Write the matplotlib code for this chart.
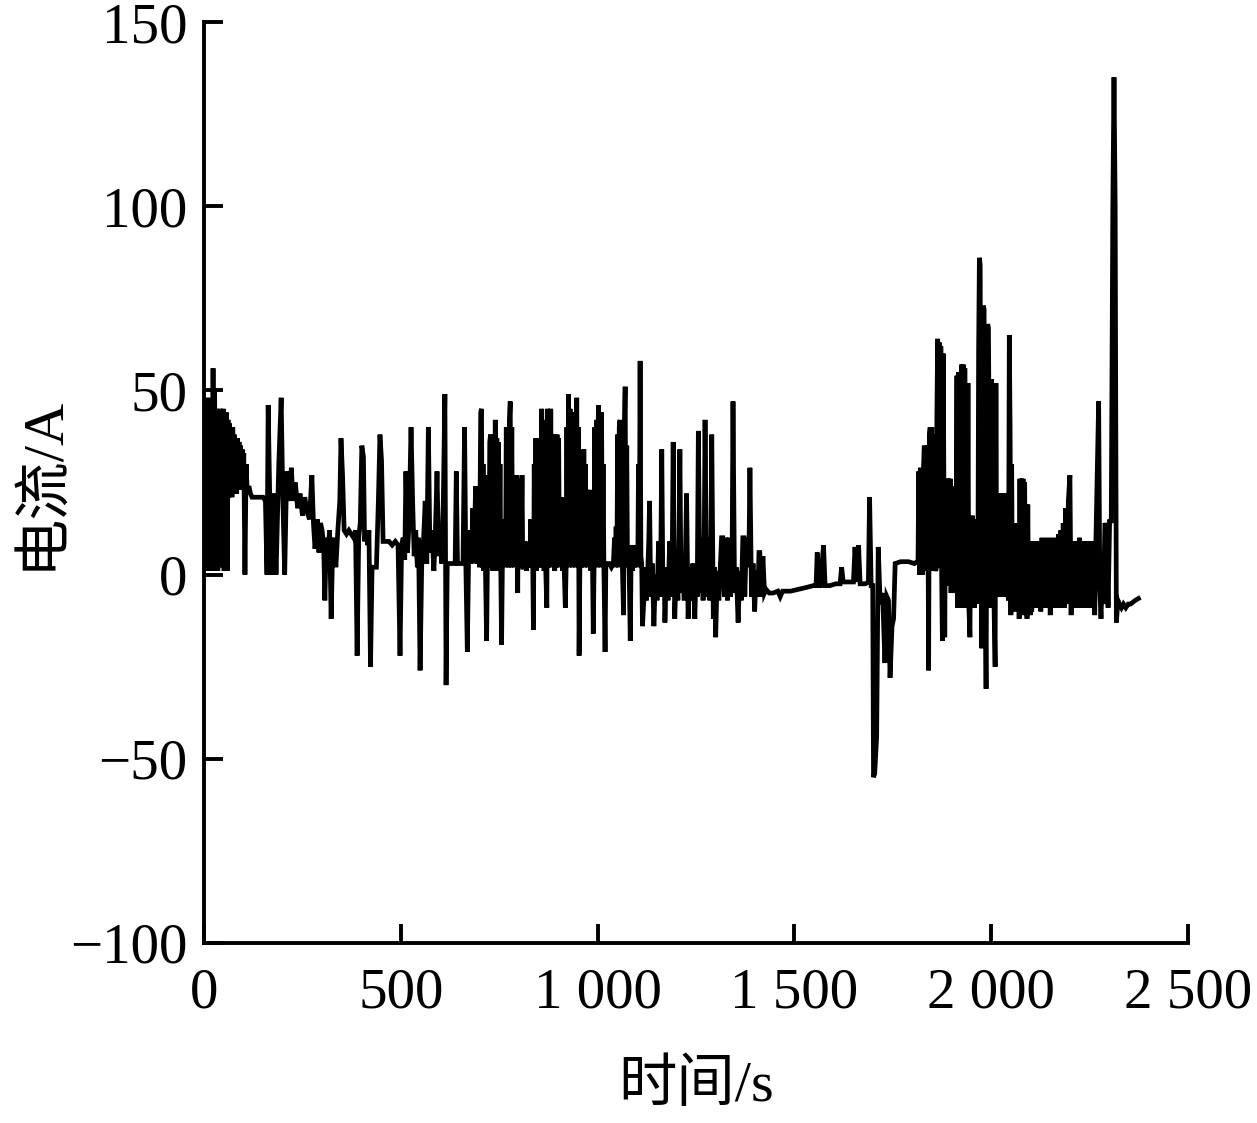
import matplotlib
matplotlib.use("Agg")
import matplotlib.pyplot as plt

# ---- data (time in s, current in A) ----
seg_startup = [(0, 22), (2, 47), (4, 1), (6, 30), (8, 2), (10, 48), (12, 20), (14, 1), (16, 40), (18, 22),
               (20, 1), (23, 56), (25, 20), (27, 50), (29, 1), (31, 45), (33, 22), (35, 1), (37, 44), (39, 20),
               (41, 45), (43, 2), (45, 43), (47, 20), (49, 45), (51, 1), (53, 42), (55, 22), (57, 44), (59, 1),
               (61, 42), (63, 21), (65, 41), (67, 22), (69, 40), (71, 21), (73, 40), (75, 22), (77, 38), (79, 24),
               (81, 37), (83, 22), (85, 37), (87, 25), (89, 36), (91, 23), (93, 35), (95, 24), (97, 34), (99, 23),
               (101, 33), (104, 0), (107, 30), (110, 22), (114, 24), (118, 22), (122, 21), (135, 21), (150, 21),
               (156, 20), (160, 0), (163, 46), (167, 21), (172, 0), (177, 22), (183, 0), (190, 30), (196, 48),
               (200, 22), (205, 0), (210, 28), (215, 20), (222, 29), (226, 20), (232, 25), (238, 18), (244, 22),
               (250, 16), (256, 21), (262, 17), (268, 15), (274, 27), (278, 14), (282, 7), (288, 15), (292, 6),
               (296, 14), (300, 12)]

seg_early = [(304, 8), (307, -7), (311, 10), (315, 6), (319, 12), (323, -12), (327, 8), (331, 10), (335, 2),
             (340, 12), (345, 20), (348, 37), (352, 27), (356, 12), (362, 11), (368, 12), (374, 11), (380, 10),
             (385, 12), (389, -22), (393, 10), (397, 14), (401, 35), (405, 32), (408, 9), (412, 12), (416, 8),
             (419, 12), (423, -25), (427, 2), (432, 2), (438, 2), (443, 20), (447, 38), (451, 31), (455, 9),
             (462, 9), (470, 9), (478, 8), (486, 9), (493, 8), (498, -22), (502, 8), (506, 10), (510, 4),
             (513, 28), (517, 6), (521, 14), (526, 40), (530, 20), (534, 5), (538, 12), (542, 2), (545, 10),
             (549, -26), (553, 2), (558, 10), (562, 20), (566, 3), (570, 40), (574, 6), (579, 12), (584, 1),
             (588, 12), (592, 28), (596, 5), (600, 10), (604, 3), (608, 20), (612, 49), (615, -30), (618, 3),
             (625, 3), (632, 3), (638, 3), (641, 28), (644, 3), (650, 3), (655, 3)]

seg_middle = [(658, 3), (662, 40), (665, 4), (669, -21), (672, 3), (676, 12), (679, 3), (683, 18), (686, 4),
              (690, 24), (693, 3), (697, 20), (700, 2), (703, 44), (705, 45), (707, 2), (709, 30), (711, 1),
              (713, 26), (715, 2), (718, -18), (720, 3), (722, 27), (724, 2), (726, 36), (728, 38), (730, 2),
              (732, 35), (734, 1), (736, 38), (738, 3), (740, 42), (742, 2), (744, 37), (746, 1), (748, 36),
              (750, 3), (752, 30), (754, 2), (756, -19), (758, 2), (760, 15), (762, 3), (764, 14), (766, 2),
              (768, 40), (770, 3), (772, 38), (774, 2), (776, 42), (778, 47), (780, 2), (782, 40), (784, 3),
              (786, 27), (788, 2), (790, 26), (792, 3), (794, 27), (797, -5), (799, 25), (801, 2), (803, 26),
              (805, 3), (808, 27), (810, 2), (813, 2), (816, 9), (819, 1), (822, 8), (825, 2), (828, 3),
              (830, 15), (832, 2), (834, 14), (837, -15), (839, 30), (841, 2), (843, 37), (845, 1), (847, 36),
              (849, 3), (851, 37), (853, 2), (855, 35), (857, 2), (858, 45), (860, 3), (862, 36), (864, 1),
              (866, 42), (868, 2), (871, -9), (873, 45), (875, 2), (877, 28), (879, 3), (881, 45), (883, 2),
              (885, 37), (887, 3), (889, 38), (891, 1), (893, 36), (895, 2), (897, 38), (899, 3), (901, 37),
              (903, 2), (905, 21), (907, 3), (909, 20), (911, 1), (913, 21), (915, 2), (918, -9), (920, 2),
              (922, 40), (924, 3), (926, 49), (928, 2), (930, 45), (932, 3), (934, 40), (936, 2), (938, 44),
              (940, 3), (942, 42), (944, 2), (947, 48), (949, 3), (951, 40), (953, -22), (955, 3), (957, 33),
              (959, 2), (961, 32), (963, 3), (965, 34), (967, 2), (969, 30), (971, 3), (973, 23), (975, 2),
              (977, 22), (979, 3), (981, 23), (983, 1), (985, 22), (987, 3), (989, -16), (991, 2), (993, 40),
              (995, 3), (997, 42), (999, 2), (1002, 46), (1004, 3), (1006, 40), (1008, 2), (1010, 44),
              (1012, 3), (1014, 30), (1016, 2), (1019, -21), (1021, 3), (1025, 3), (1030, 3), (1035, 2),
              (1040, 3), (1043, 10), (1045, 2), (1047, 13), (1049, 3), (1051, 38), (1053, 2), (1055, 40),
              (1057, 42), (1059, 3), (1061, 38), (1063, 2), (1066, -11), (1068, 40), (1070, 51), (1072, 3),
              (1074, 35), (1076, 2), (1078, 8), (1080, 2), (1083, -18), (1085, 3), (1087, 7), (1089, 1),
              (1091, 8), (1093, 2), (1095, 7), (1097, 3), (1100, 8), (1102, 2), (1104, 30), (1106, 3),
              (1108, 58), (1110, 5), (1112, 3), (1114, -14), (1118, -6)]

seg_block1 = [(1121, 2), (1124, -7), (1127, 0), (1130, 9), (1132, 20), (1135, -6), (1139, 3), (1143, -14),
              (1147, 0), (1151, -7), (1155, 9), (1159, -6), (1161, 10), (1163, 34), (1166, -5), (1169, 2),
              (1171, -13), (1175, 1), (1179, -7), (1183, 9), (1187, -6), (1190, 10), (1192, 36), (1196, -12),
              (1200, 2), (1204, -7), (1207, 10), (1209, 34), (1212, -5), (1216, 2), (1220, -7), (1223, 4),
              (1226, 22), (1230, -12), (1234, 2), (1238, -7), (1242, 3), (1247, -12), (1250, 1), (1253, -6),
              (1256, 39), (1260, -5), (1264, 10), (1268, -7), (1271, 10), (1273, 42), (1277, -6), (1281, 10),
              (1285, -7), (1288, 10), (1290, 38), (1294, -12), (1297, 2), (1300, -17), (1304, 1), (1308, -7),
              (1312, 3), (1315, 10), (1318, 10), (1322, -6), (1326, 10), (1330, -7), (1334, 10), (1338, -6),
              (1342, 10), (1344, 47), (1348, -5), (1352, 2), (1357, -13), (1361, 1), (1365, -7), (1369, 10),
              (1372, 10), (1374, -6), (1378, 10), (1382, 2), (1385, 10), (1387, 29), (1391, -6), (1395, 3),
              (1399, -10), (1403, 1), (1407, -6), (1410, 6), (1412, 6), (1416, -6), (1420, 5), (1424, -5),
              (1428, -4), (1436, -5), (1446, -5), (1458, -4.5), (1464, -6), (1470, -4.5), (1490, -4.5),
              (1510, -4), (1530, -3.5), (1548, -3)]

seg_quiet = [(1555, -3), (1558, 6), (1562, -3), (1566, -3), (1574, 8), (1578, -3), (1590, -3), (1605, -2.5),
             (1616, -2.5), (1620, 2), (1624, -2), (1640, -2), (1650, -2), (1654, 7.5), (1658, -2), (1663, 8),
             (1667, -2.5), (1680, -2.5), (1688, -2), (1691, 21), (1695, -3), (1699, -3), (1701, -55),
             (1704, -54), (1709, -44), (1713, 7.5), (1718, -8), (1724, -5), (1730, -24), (1735, -6),
             (1739, -7), (1743, -28), (1748, -14), (1752, -12), (1756, 3), (1770, 3.5), (1790, 3.5),
             (1805, 3), (1812, 3.5)]

seg_spikes = [(1814, 3), (1816, 28), (1818, 0), (1820, 29), (1822, 1), (1824, 28), (1826, 0), (1828, 29),
              (1830, 35), (1832, 1), (1834, 34), (1836, 2), (1838, 35), (1840, 0), (1841, -26), (1843, 38),
              (1845, 40), (1847, 1), (1849, 40), (1851, 2), (1853, 38), (1855, 1), (1857, 3), (1859, 1),
              (1861, 2), (1862, 43), (1864, 64), (1866, 3), (1868, 63), (1870, 2), (1872, 62), (1874, 1),
              (1876, -18), (1878, 60), (1880, 23), (1882, -17), (1884, 22), (1886, 2), (1888, 26), (1890, 0),
              (1892, 26), (1894, -3), (1896, 26), (1898, -5), (1900, 24), (1902, -4), (1904, 13), (1906, -5),
              (1908, 13), (1910, -4), (1913, 54), (1915, -9), (1917, 55), (1919, -8), (1921, 50), (1923, -9),
              (1925, 57), (1927, -8), (1929, 57), (1931, -9), (1933, 56), (1935, -8), (1937, 40), (1939, -9),
              (1941, 52), (1943, -8), (1946, -17), (1948, 15), (1950, -9), (1952, 16), (1954, -8), (1956, 15),
              (1958, -9), (1960, 14), (1962, -8), (1964, 13), (1966, -7), (1968, 60), (1970, 86), (1972, 84),
              (1974, 10), (1976, -20), (1978, 30), (1980, 73), (1982, 72), (1984, 5), (1987, -31), (1989, 20),
              (1991, 68), (1993, 67), (1995, 34), (1997, 33), (1999, -9), (2001, 53), (2003, -8), (2005, 52),
              (2007, -7), (2010, -25), (2012, 52), (2014, -6), (2016, 10), (2018, -5), (2020, 3), (2022, -6),
              (2024, 22), (2026, -5), (2028, 22), (2030, -6), (2032, 22), (2034, -5), (2036, 21), (2038, -6),
              (2040, 22), (2042, -5), (2044, -7), (2046, 65), (2048, 40), (2050, -11), (2052, 30), (2054, -8),
              (2056, 14), (2058, -9), (2060, 2), (2062, -10), (2065, 14), (2067, -9), (2069, 13), (2071, -12),
              (2073, 26), (2075, -10), (2077, 26), (2079, -9), (2081, 26), (2083, -11), (2085, 25), (2087, -10),
              (2089, 19), (2091, -12), (2093, 19), (2095, -10), (2097, 7), (2099, -11), (2101, 9), (2103, -10),
              (2105, 9), (2107, -9)]

seg_end = [(2111, 9), (2114, -9), (2117, 9), (2120, -8), (2123, 9), (2126, -10), (2129, 10), (2132, -8),
           (2135, 9), (2138, -9), (2141, 10), (2144, -8), (2147, 9), (2150, -11), (2153, 10), (2156, -8),
           (2159, 9), (2162, -9), (2165, 10), (2168, -8), (2171, 11), (2174, -9), (2177, 12), (2180, -8),
           (2183, 14), (2186, -9), (2189, 18), (2192, -8), (2196, 20), (2200, 27), (2203, -11), (2206, 9),
           (2209, -8), (2212, 9), (2215, -9), (2218, 9), (2221, -8), (2224, 10), (2227, -9), (2230, 9),
           (2233, -8), (2236, 9), (2239, -9), (2242, 9), (2245, -8), (2248, 9), (2251, -9), (2254, 9),
           (2257, -8), (2260, 9), (2263, -11), (2266, 9), (2270, 30), (2273, 47), (2276, -4), (2279, -12),
           (2282, 0), (2285, -8), (2289, 14), (2293, 12), (2297, -9), (2301, 15), (2305, 14), (2309, 100),
           (2312, 135), (2315, 100), (2318, -13), (2322, -7), (2326, -8), (2331, -9), (2336, -8), (2342, -9),
           (2348, -8), (2354, -8), (2360, -7.5), (2366, -7), (2374, -6.5)]

x_ticks = [0, 500, 1000, 1500, 2000, 2500]
x_tick_labels = ["0", "500", "1 000", "1 500", "2 000", "2 500"]
y_ticks = [-100, -50, 0, 50, 100, 150]
y_tick_labels = ["\u2212100", "\u221250", "0", "50", "100", "150"]
x_label = "时间/s"
y_label = "电流/A"

segments = [seg_startup, seg_early, seg_middle, seg_block1, seg_quiet, seg_spikes, seg_end]
points = [p for seg in segments for p in seg]
time_s = [p[0] for p in points]
current_a = [p[1] for p in points]

fonts = ["Liberation Serif", "Noto Sans CJK SC", "DejaVu Sans"]
plt.rcParams["font.family"] = fonts

fig = plt.figure(figsize=(12.57, 11.23), dpi=100)
ax = fig.add_axes([0.1623, 0.1603, 0.7828, 0.8201])
ax.plot(time_s, current_a, color="black", linewidth=3.4, solid_joinstyle="miter")

ax.set_xlim(0, 2500)
ax.set_ylim(-100, 150)
ax.set_xticks(x_ticks)
ax.set_xticklabels(x_tick_labels)
ax.set_yticks(y_ticks)
ax.set_yticklabels(y_tick_labels)

for side in ("top", "right"):
    ax.spines[side].set_visible(False)
for side in ("left", "bottom"):
    ax.spines[side].set_linewidth(2.8)

ax.tick_params(axis="both", direction="in", length=14, width=2.8, labelsize=41, colors="black")
ax.tick_params(axis="x", pad=18)
ax.tick_params(axis="y", pad=12)

ax.set_xlabel(x_label, fontsize=42)
ax.set_ylabel(y_label, fontsize=42)
ax.xaxis.set_label_coords(0.5, -0.155)
ax.xaxis.label.set_va("center")
ax.yaxis.set_label_coords(-0.164, 0.5)
ax.yaxis.label.set_va("center")

fig.savefig("out.png", dpi=100)
